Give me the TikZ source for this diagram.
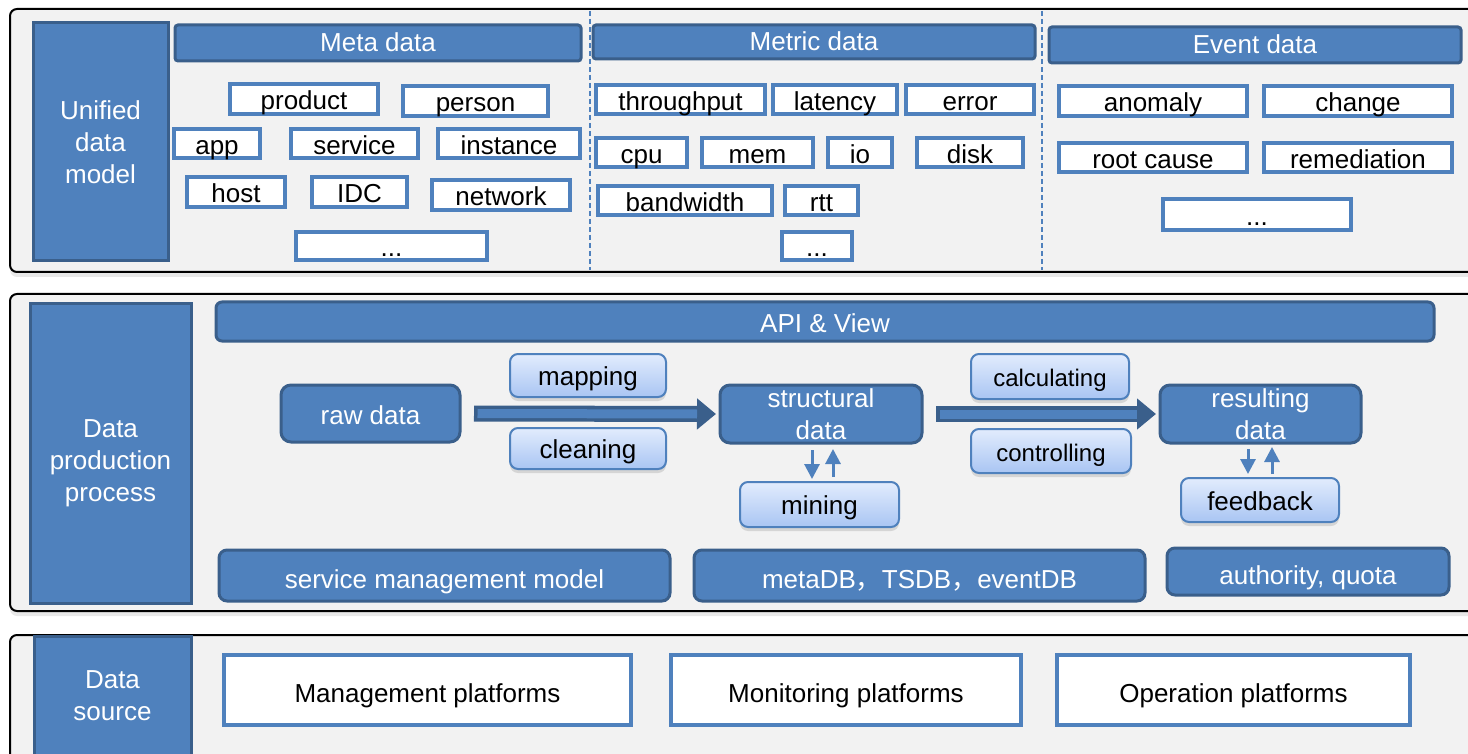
\documentclass[tikz,border=0pt]{standalone}
\usepackage{fontspec}
\setmainfont{Liberation Sans}
\newfontfamily\cjk{Noto Sans CJK SC}
\usetikzlibrary{arrows.meta,shadows,calc}
\definecolor{blueA}{HTML}{4F81BD}
\definecolor{blueB}{HTML}{3A5F8B}
\definecolor{panelgray}{HTML}{F2F2F2}
\definecolor{btntop}{HTML}{E2ECFD}
\definecolor{btnbot}{HTML}{A9C5F3}
\newcommand\bx[7]{\node[#1, minimum width={(#5-#3)*1pt}, minimum height={(#6-#4)*1pt}] (#2) at ({(#3+#5)/2},{(#4+#6)/2}) {#7};}
\begin{document}
\begin{tikzpicture}[x=1pt,y=-1pt,
  base/.style={inner sep=0pt, outer sep=0pt, font=\fontsize{26}{32}\selectfont, align=center},
  panelbox/.style={base, draw=black, line width=2pt, fill=panelgray, rounded corners=7pt,
    drop shadow={opacity=0.18, shadow xshift=0pt, shadow yshift=-5pt}},
  labbox/.style={base, draw=blueB, line width=3pt, fill=blueA, text=white},
  hdr/.style={labbox, rounded corners=3pt, text height=18pt, text depth=0pt},
  wbox/.style={base, draw=blueA, line width=4pt, fill=white, text height=22pt, text depth=0pt},
  proc/.style={labbox, rounded corners=10pt},
  lowproc/.style={labbox, rounded corners=8pt, text height=26pt, text depth=0pt},
  btn/.style={base, draw=blueA, line width=2pt, top color=btntop, bottom color=btnbot,
    rounded corners=8pt, text height=20pt, text depth=0pt,
    drop shadow={opacity=0.25, shadow xshift=0pt, shadow yshift=-4pt}},
  platform/.style={base, draw=blueA, line width=4pt, fill=white, text height=25pt, text depth=0pt},
  bigarrow/.style={draw=blueB, line width=16pt, -{Triangle[length=19pt,width=30pt]}},
  bigin/.style={draw=blueA, line width=9pt},
  smallarrow/.style={draw=blueA, line width=3pt, -{Triangle[length=15pt,width=15pt]}},
  sepline/.style={draw=blueA, line width=1.5pt, dash pattern=on 5pt off 3pt}
]
\useasboundingbox (0,0) rectangle (1468,754);
\clip (0,0) rectangle (1468,754);
\fill[white] (0,0) rectangle (1468,754);

% ---------- panel 1 ----------
\bx{panelbox}{p1}{10}{9}{1490}{272}{}
\bx{labbox}{udm}{33}{23}{168}{261}{Unified\\data\\model}
\draw[sepline] (590,11) -- (590,270);
\draw[sepline] (1042,11) -- (1042,270);
\bx{hdr}{meta}{175}{25}{581}{61}{Meta data}
\bx{hdr}{metric}{593}{25}{1035}{59}{Metric data}
\bx{hdr}{event}{1049}{27}{1461}{63}{Event data}

\bx{wbox}{product}{230}{84}{378}{114}{product}
\bx{wbox}{person}{403}{86}{548}{116}{person}
\bx{wbox}{app}{174}{129}{260}{158}{app}
\bx{wbox}{service}{291}{129}{418}{158}{service}
\bx{wbox}{instance}{438}{129}{580}{158}{instance}
\bx{wbox}{host}{187}{177}{285}{207}{host}
\bx{wbox}{idc}{312}{177}{407}{207}{IDC}
\bx{wbox}{network}{432}{180}{570}{210}{network}
\bx{wbox}{metamore}{296}{232}{487}{260}{...}

\bx{wbox}{throughput}{596}{85}{765}{114}{throughput}
\bx{wbox}{latency}{773}{85}{897}{114}{latency}
\bx{wbox}{error}{906}{85}{1034}{114}{error}
\bx{wbox}{cpu}{596}{138}{687}{167}{cpu}
\bx{wbox}{mem}{702}{138}{813}{167}{mem}
\bx{wbox}{io}{828}{138}{892}{167}{io}
\bx{wbox}{disk}{917}{138}{1023}{167}{disk}
\bx{wbox}{bandwidth}{598}{186}{772}{215}{bandwidth}
\bx{wbox}{rtt}{785}{186}{858}{215}{rtt}
\bx{wbox}{metricmore}{782}{232}{852}{260}{...}

\bx{wbox}{anomaly}{1059}{86}{1247}{116}{anomaly}
\bx{wbox}{change}{1264}{86}{1452}{116}{change}
\bx{wbox}{rootcause}{1059}{143}{1247}{172}{root cause}
\bx{wbox}{remediation}{1264}{143}{1452}{172}{remediation}
\bx{wbox}{eventmore}{1163}{199}{1351}{230}{...}

% ---------- panel 2 ----------
\bx{panelbox}{p2}{10}{294}{1490}{611}{}
\bx{labbox, text height=95pt, text depth=0pt}{dpp}{30}{304}{191}{603}{Data\\production\\process}
\bx{hdr, rounded corners=6pt, text height=22pt}{api}{216}{302}{1434}{341}{API \& View}
\bx{proc, text height=22pt, text depth=0pt}{raw}{281}{385}{460}{442}{raw data}
\bx{proc}{struct}{720}{385}{922}{443}{structural\\data}
\bx{proc}{result}{1160}{385}{1361}{443}{resulting\\data}
\bx{btn}{mapping}{510}{354}{666}{397}{mapping}
\bx{btn}{cleaning}{510}{428}{666}{469}{cleaning}
\bx{btn, font=\fontsize{24}{29}\selectfont}{calculating}{971}{354}{1129}{399}{calculating}
\bx{btn, font=\fontsize{24}{29}\selectfont}{controlling}{971}{429}{1131}{473}{controlling}
\bx{btn}{mining}{740}{482}{899}{527}{mining}
\bx{btn}{feedback}{1181}{478}{1339}{522}{feedback}
\bx{lowproc}{smm}{219}{550}{670}{601}{service management model}
\bx{lowproc}{db}{694}{550}{1145}{601}{metaDB{\cjk ，}TSDB{\cjk ，}eventDB}
\bx{lowproc}{auth}{1167}{548}{1449}{595}{authority, quota}

\draw[bigarrow] ($(raw.east)+(14,0)$) -- ($(struct.west)+(-4,0)$);
\draw[bigin] ($(raw.east)+(17.5,0)$) -- ($(struct.west)+(-23,0)$);
\draw[bigarrow] ($(struct.east)+(14,0)$) -- ($(result.west)+(-4,0)$);
\draw[bigin] ($(struct.east)+(17.5,0)$) -- ($(result.west)+(-23,0)$);

\draw[smallarrow] ($(struct.south)+(-9,7)$) -- ($(mining.north)+(-7.5,-3)$);
\draw[smallarrow] ($(mining.north)+(13.5,-5)$) -- ($(struct.south)+(12,6)$);
\draw[smallarrow] ($(result.south)+(-12.5,6)$) -- ($(feedback.north)+(-12,-4)$);
\draw[smallarrow] ($(feedback.north)+(12,-4)$) -- ($(result.south)+(11.5,4)$);

% ---------- panel 3 ----------
\bx{panelbox}{p3}{10}{635}{1490}{800}{}
\bx{labbox}{ds}{34}{636}{191}{756}{Data\\source}
\bx{platform}{mgmt}{224}{655}{631}{725}{Management platforms}
\bx{platform}{mon}{671}{655}{1021}{725}{Monitoring platforms}
\bx{platform}{ops}{1057}{655}{1410}{725}{Operation platforms}
\end{tikzpicture}
\end{document}
